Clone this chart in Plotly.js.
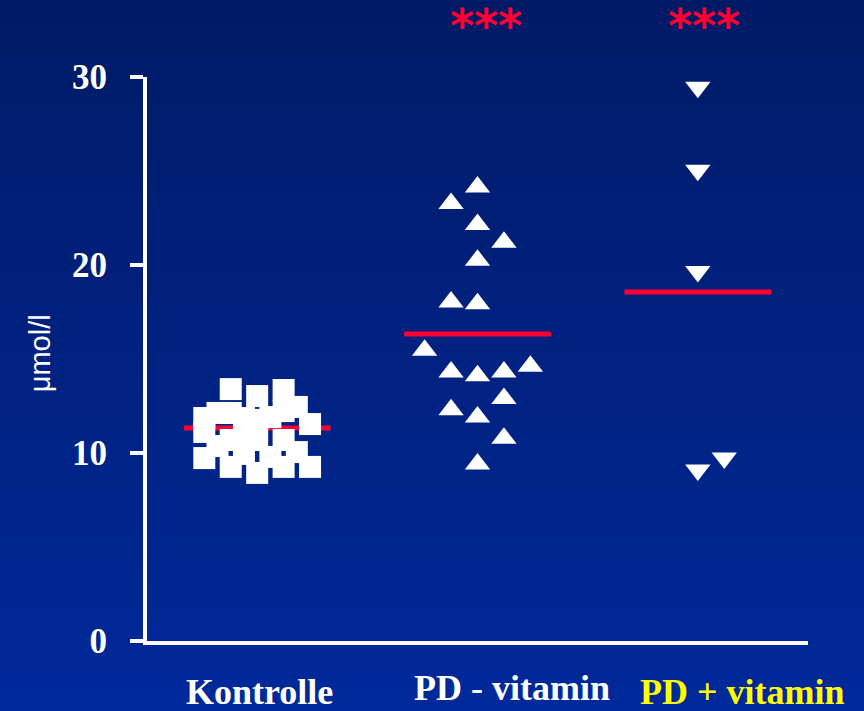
<!DOCTYPE html>
<html>
<head>
<meta charset="utf-8">
<script src="https://cdn.plot.ly/plotly-3.0.1.min.js"></script>
<style>
html, body { margin: 0; padding: 0; }
#chart { width: 864px; height: 711px; background: linear-gradient(to bottom, #001a66 0%, #00299b 100%); }
</style>
</head>
<body>
<div id="chart"></div>
<script>
// ---- data ----
const categories = ['Kontrolle', 'PD - vitamin', 'PD + vitamin'];
const categoryColors = ['#ffffff', '#ffffff', '#ffff00'];
const significance = ['', '***', '***'];
const groupMeans = [11.33, 16.33, 18.56];
const yTickValues = [0, 10, 20, 30];
const yTickLabels = ['0', '10', '20', '30'];
const yUnit = 'μmol/l';

const kontrolleValues = [11.86, 11.12, 9.73, 12.13, 10.37, 13.40, 12.13, 10.69, 9.26,
  11.86, 10.85, 9.95, 13.03, 11.76, 10.69, 8.94, 11.91, 9.79,
  13.35, 12.23, 10.69, 9.26, 12.45, 10.05, 11.54, 9.26];
const kontrolleOffsets = [-0.24, -0.24, -0.24, -0.18, -0.18, -0.12, -0.12, -0.12, -0.12,
  -0.06, -0.06, -0.06, 0, 0, 0, 0, 0.06, 0.06,
  0.12, 0.12, 0.12, 0.12, 0.18, 0.18, 0.24, 0.24];

const pdMinusValues = [24.15, 23.27, 22.15, 21.21, 20.25, 18.03, 17.94, 15.46, 14.31,
  14.11, 14.31, 14.61, 12.90, 12.30, 11.91, 10.79, 9.42];
const pdMinusOffsets = [0, -0.12, 0, 0.12, 0, -0.12, 0, -0.24, -0.12,
  0, 0.12, 0.24, 0.12, -0.12, 0, 0.12, 0];

const pdPlusValues = [29.46, 25.04, 19.65, 9.73, 9.09];
const pdPlusOffsets = [0, 0, 0, 0.12, 0];

// ---- styling ----
const meanHalfWidth = 0.333;
const labelShift = [2, 34, 45];
const labelY = [-0.09, -0.083, -0.09];
const starShift = [0, 8, 6];
const red = '#ff0033';

const traces = [];
groupMeans.forEach((m, i) => {
  traces.push({
    x: [i - meanHalfWidth, i + meanHalfWidth], y: [m, m],
    mode: 'lines', line: { color: red, width: 5 }, hoverinfo: 'skip', cliponaxis: false
  });
});
traces.push({
  x: kontrolleOffsets.map(o => 0 + o), y: kontrolleValues, mode: 'markers', cliponaxis: false,
  marker: { symbol: 'square', size: 22, color: '#ffffff', line: { width: 0 } }, name: categories[0]
});
traces.push({
  x: pdMinusOffsets.map(o => 1 + o), y: pdMinusValues, mode: 'markers', cliponaxis: false,
  marker: { symbol: 'triangle-up', size: 22, color: '#ffffff', line: { width: 0 } }, name: categories[1]
});
traces.push({
  x: pdPlusOffsets.map(o => 2 + o), y: pdPlusValues, mode: 'markers', cliponaxis: false,
  marker: { symbol: 'triangle-down', size: 22, color: '#ffffff', line: { width: 0 } }, name: categories[2]
});

const annotations = [];
categories.forEach((c, i) => {
  annotations.push({
    x: i, xref: 'x', xshift: labelShift[i], y: labelY[i], yref: 'paper',
    text: c, showarrow: false, xanchor: 'center', yanchor: 'middle',
    font: { family: 'Liberation Serif', size: 36, color: categoryColors[i], weight: 'bold' }
  });
  if (significance[i]) {
    annotations.push({
      x: i, xref: 'x', xshift: starShift[i], y: 1.09, yref: 'paper',
      text: significance[i], showarrow: false, xanchor: 'center', yanchor: 'middle',
      font: { family: 'DejaVu Sans', size: 46, color: red, weight: 'bold' }
    });
  }
});
annotations.push({
  x: -0.162, xref: 'paper', y: 0.51, yref: 'paper', text: yUnit, textangle: -90,
  showarrow: false, xanchor: 'center', yanchor: 'middle',
  font: { family: 'Liberation Sans', size: 29, color: '#ffffff' }
});

const layout = {
  width: 864, height: 711,
  margin: { l: 147, r: 56, t: 77, b: 70 },
  paper_bgcolor: 'rgba(0,0,0,0)', plot_bgcolor: 'rgba(0,0,0,0)',
  showlegend: false,
  xaxis: {
    range: [-0.5, 2.5], showline: true, linecolor: '#ffffff', linewidth: 4,
    showticklabels: false, ticks: '', showgrid: false, zeroline: false
  },
  yaxis: {
    range: [0, 30], tickvals: yTickValues, ticktext: yTickLabels,
    ticks: 'outside', ticklen: 13, tickwidth: 4, tickcolor: '#ffffff',
    showline: true, linecolor: '#ffffff', linewidth: 4,
    showgrid: false, zeroline: false, ticklabelstandoff: 16,
    tickfont: { family: 'Liberation Serif', size: 35, color: '#ffffff', weight: 'bold' }
  },
  annotations: annotations
};

Plotly.newPlot('chart', traces, layout, { staticPlot: true, displayModeBar: false });
</script>
</body>
</html>
